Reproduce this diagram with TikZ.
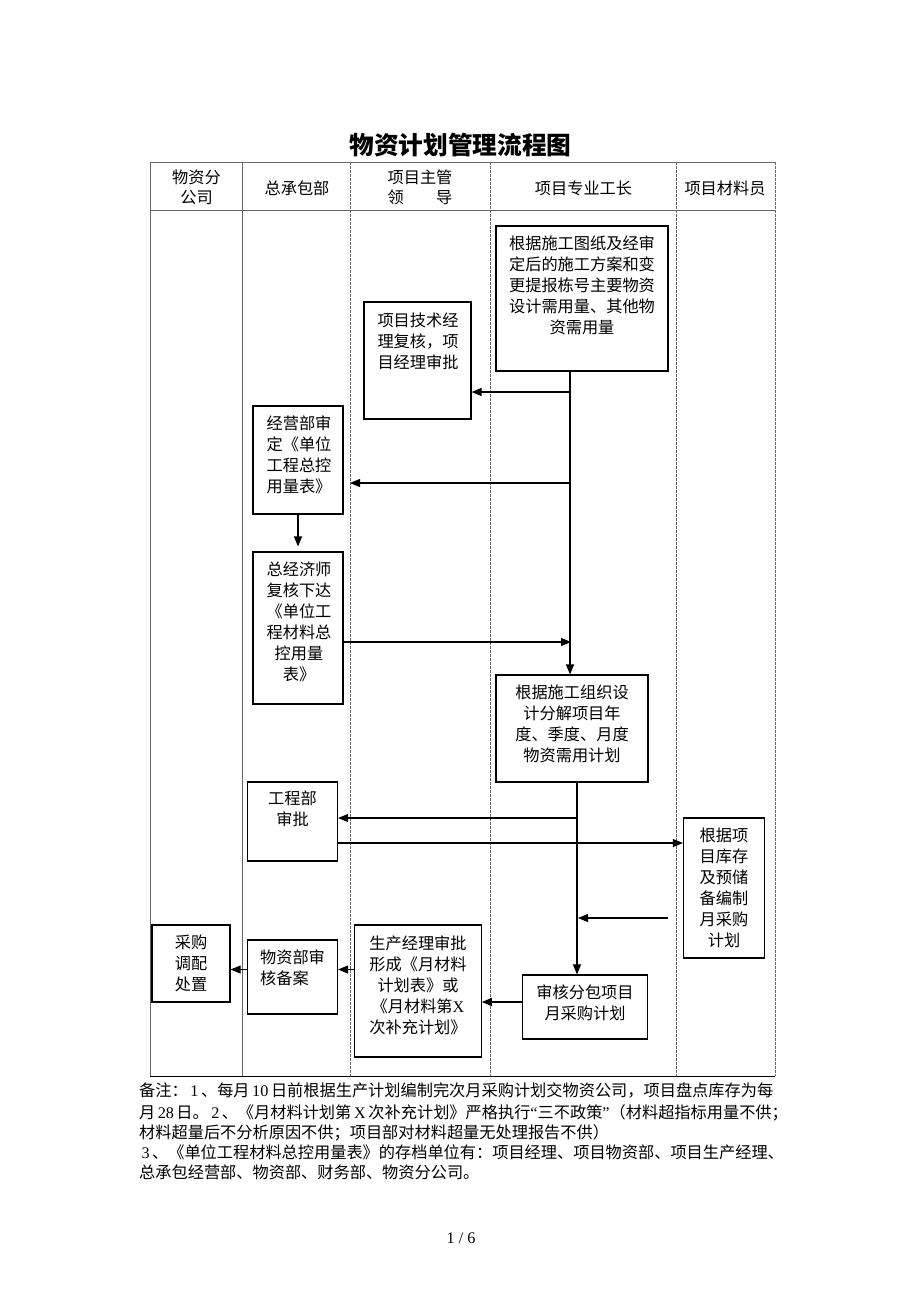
\documentclass[tikz,border=0pt]{standalone}
\usepackage{fontspec}
\setmainfont{Noto Sans CJK SC}
\newfontfamily\lat{Liberation Serif}
\usetikzlibrary{arrows.meta,calc}
\XeTeXlinebreaklocale "zh"
\XeTeXlinebreakskip=0pt plus 3pt minus 1pt
\begin{document}
\begin{tikzpicture}[x=1pt,y=-1pt,
  box/.style={draw=black,line width=1.2pt,inner sep=0pt},
  txt/.style={font=\fontsize{16.2}{21}\selectfont,align=center,inner sep=0pt},
  htxt/.style={font=\fontsize{16.2}{20}\selectfont,align=center,inner sep=0pt},
  note/.style={font=\fontsize{16.2}{21}\selectfont,inner sep=0pt,anchor=base west},
  arr/.style={line width=1.1pt,-{Triangle[length=10pt,width=8pt]}},
  solidlane/.style={draw=black!60,line width=0.8pt},
  dashlane/.style={draw=black!60,line width=0.8pt,dash pattern=on 2.5pt off 1.5pt}]
\useasboundingbox[fill=white] (0,0) rectangle (920,1302);

% title
\node[inner sep=0pt,font=\fontsize{24.7}{28}\selectfont\bfseries] (title) at (460.5,145) {物资计划管理流程图};

% table frame
\draw[solidlane] (150,162) -- (775,162);
\draw[solidlane] (150,210) -- (775,210);
\draw[draw=black,line width=1pt] (150,1076) -- (775,1076);
\draw[solidlane] (150,162) -- (150,1076);
\draw[solidlane] (242.5,162) -- (242.5,1076);
\draw[dashlane] (350,162) -- (350,1076);
\draw[dashlane] (490,162) -- (490,1076);
\draw[dashlane] (676.5,162) -- (676.5,1076);
\draw[dashlane] (775,162) -- (775,1076);

% header
\node[htxt] (h1) at (196.5,187) {物资分\\公司};
\node[htxt] (h2) at (297,188) {总承包部};
\node[htxt] (h3) at (420,187) {项目主管\\领\hspace{2em}导};
\node[htxt] (h4) at (583.5,188) {项目专业工长};
\node[htxt] (h5) at (725,188) {项目材料员};

% boxes
\node[box,minimum width=172pt,minimum height=145pt] (b1) at (582,298.5) {};
\node[txt] (b1t) at (582,285) {根据施工图纸及经审\\定后的施工方案和变\\更提报栋号主要物资\\设计需用量、其他物\\资需用量};

\node[box,minimum width=107pt,minimum height=117pt] (b2) at (417.5,360.5) {};
\node[txt] (b2t) at (418,341) {项目技术经\\理复核，项\\目经理审批};

\node[box,minimum width=90pt,minimum height=108pt] (b3) at (298,460) {};
\node[txt] (b3t) at (299,454.5) {经营部审\\定《单位\\工程总控\\用量表》};

\node[box,minimum width=90pt,minimum height=152pt] (b4) at (298,628) {};
\node[txt] (b4t) at (299,622) {总经济师\\复核下达\\《单位工\\程材料总\\控用量\\表》};

\node[box,minimum width=152pt,minimum height=107pt] (b5) at (572,728.5) {};
\node[txt] (b5t) at (572,723.5) {根据施工组织设\\计分解项目年\\度、季度、月度\\物资需用计划};

\node[box,minimum width=90pt,minimum height=79pt] (b6) at (292.5,821.5) {};
\node[txt] (b6t) at (292.5,809) {工程部\\审批};

\node[box,minimum width=81pt,minimum height=140pt] (b7) at (724,888) {};
\node[txt] (b7t) at (724,887.5) {根据项\\目库存\\及预储\\备编制\\月采购\\计划};

\node[box,minimum width=78pt,minimum height=77pt] (b8) at (191,963.5) {};
\node[txt] (b8t) at (191,963.5) {采购\\调配\\处置};

\node[box,minimum width=90pt,minimum height=74pt] (b9) at (292.5,977) {};
\node[txt,align=left] (b9t) at (292.5,967.5) {物资部审\\核备案};

\node[box,minimum width=126.5pt,minimum height=132pt] (b10) at (418,991) {};
\node[txt] (b10t) at (418,985) {生产经理审批\\形成《月材料\\计划表》或\\《月材料第{\lat X}\\次补充计划》};

\node[box,minimum width=125pt,minimum height=64pt] (b11) at (585,1007) {};
\node[txt] (b11t) at (585,1002.5) {审核分包项目\\月采购计划};

% junction coordinates
\coordinate (v1) at (570,371);
\coordinate (j1) at (570,392);
\coordinate (j2) at (570,483);
\coordinate (j2e) at (350,483);
\coordinate (j3) at (571,642);
\coordinate (v2) at (577,782);
\coordinate (j4) at (577,818);
\coordinate (j5) at (500,843);
\coordinate (s7) at (668,918);
\coordinate (j6) at (500,1002);
\coordinate (j7) at (300,969.5);

% connectors
\draw[arr] (v1) -- (v1 |- b5.north);
\draw[arr] (j1) -- (b2.east |- j1);
\draw[arr] (j2) -- (j2e);
\draw[arr] (b3.south) -- ([yshift=5pt]b4.north);
\draw[arr] (b4.east |- j3) -- (j3);
\draw[arr] (v2) -- (v2 |- b11.north);
\draw[arr] (j4) -- (b6.east |- j4);
\draw[arr] (b6.east |- j5) -- (b7.west |- j5);
\draw[arr] (s7) -- ([xshift=1pt]v2 |- s7);
\draw[arr] (b11.west |- j6) -- (b10.east |- j6);
\draw[arr] (b10.west |- j7) -- (b9.east |- j7);
\draw[arr] (b9.west |- j7) -- (b8.east |- j7);

% notes
\node[note] (n1) at (139,1096) {\makebox[634pt][s]{备注：\ {\lat 1}\ 、每月\ {\lat 10}\ 日前根据生产计划编制完次月采购计划交物资公司，项目盘点库存为每}};
\node[note] (n2) at (139,1118) {\makebox[636pt][s]{月\ {\lat 28}\ 日。\ {\lat 2}\ 、《月材料计划第\,{\lat X}\,次补充计划》严格执行{\lat “}三不政策{\lat ”}（材料超指标用量不供；}};
\node[note] (n3) at (139,1138) {材料超量后不分析原因不供；项目部对材料超量无处理报告不供）};
\node[note] (n4) at (139,1158) {\makebox[634pt][s]{\ {\lat 3}\ 、《单位工程材料总控用量表》的存档单位有：项目经理、项目物资部、项目生产经理、}};
\node[note] (n5) at (139,1178) {总承包经营部、物资部、财务部、物资分公司。};

% page number
\node[inner sep=0pt,font=\fontsize{16.2}{20}\selectfont\lat] (pg) at (461,1238) {1 / 6};
\end{tikzpicture}
\end{document}
